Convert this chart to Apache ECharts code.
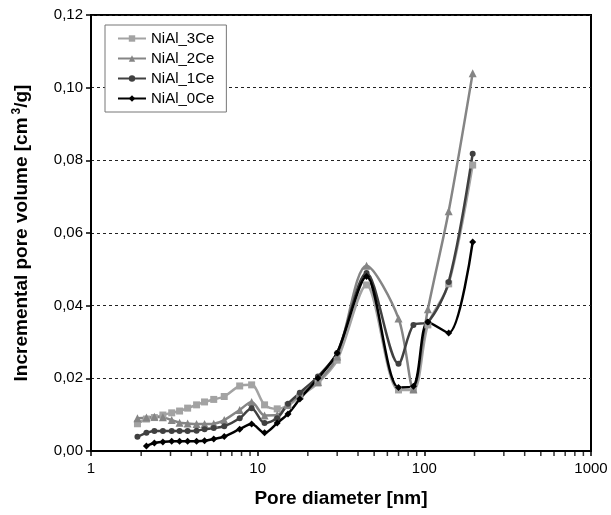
<!DOCTYPE html>
<html>
<head>
<meta charset="utf-8">
<script src="https://cdn.jsdelivr.net/npm/echarts@6/dist/echarts.min.js"></script>
<style>
  html, body { margin: 0; padding: 0; background: #fff; }
  #chart { width: 611px; height: 515px; }
</style>
</head>
<body>
<div id="chart"></div>
<script>
// pore diameters [nm] (shared grid)
const diameters = [1.9, 2.15, 2.4, 2.7, 3.05, 3.4, 3.8, 4.3, 4.8, 5.45, 6.3, 7.8, 9.2,
  11, 13.1, 15.2, 17.9, 23, 30, 45, 70, 86, 105, 140, 195];

const niAl3Ce = [0.0075, 0.0088, 0.0092, 0.0099, 0.0105, 0.011, 0.0118, 0.0127, 0.0135, 0.0142, 0.015, 0.0179, 0.0182,
  0.0127, 0.0116, 0.0125, 0.015, 0.0187, 0.025, 0.0457, 0.0168, 0.0168, 0.0347, 0.046, 0.0787];
const niAl2Ce = [0.009, 0.0092, 0.0094, 0.0093, 0.0085, 0.0078, 0.0076, 0.0074, 0.0074, 0.0075, 0.0085, 0.0113, 0.0135,
  0.0098, 0.0099, 0.0127, 0.0155, 0.019, 0.026, 0.051, 0.0365, 0.017, 0.039, 0.066, 0.104];
const niAl1Ce = [0.0039, 0.005, 0.0055, 0.0055, 0.0055, 0.0055, 0.0055, 0.0056, 0.006, 0.0063, 0.0068, 0.009, 0.0118,
  0.0077, 0.009, 0.013, 0.016, 0.0205, 0.027, 0.049, 0.024, 0.0347, 0.0355, 0.0465, 0.0818];
const niAl0Ce = [null, 0.0014, 0.0022, 0.0025, 0.0027, 0.0027, 0.0027, 0.0027, 0.0028, 0.0033, 0.004, 0.006, 0.0074,
  0.005, 0.0077, 0.0102, 0.0143, 0.02, 0.027, 0.048, 0.0175, 0.0178, 0.0355, 0.0325, 0.0575];

// minor tick positions on the log axis
const minorTicks = [2, 3, 4, 5, 6, 7, 8, 9, 20, 30, 40, 50, 60, 70, 80, 90,
  200, 300, 400, 500, 600, 700, 800, 900];

function pairs(ys) {
  return diameters.map((d, i) => [d, ys[i]]).filter(p => p[1] != null);
}

const chart = echarts.init(document.getElementById('chart'));

function line(name, data, color, symbol, size) {
  return {
    name: name,
    type: 'line',
    data: pairs(data),
    smooth: 0.3,
    symbol: symbol,
    symbolSize: size,
    showSymbol: true,
    lineStyle: { color: color, width: 2.5 },
    itemStyle: { color: color },
    z: 3
  };
}

const option = {
  animation: false,
  textStyle: { fontFamily: 'Liberation Sans, Arial, sans-serif' },
  grid: {
    left: 91, right: 20, top: 15, bottom: 64,
    show: true, borderColor: '#000', borderWidth: 2
  },
  legend: {
    orient: 'vertical',
    left: 105, top: 25,
    itemWidth: 28, itemHeight: 8, itemGap: 5,
    padding: [6, 12, 6, 12],
    borderColor: '#777', borderWidth: 1,
    backgroundColor: '#fff',
    textStyle: { fontSize: 15, color: '#000', fontFamily: 'Liberation Sans, Arial, sans-serif' },
    data: ['NiAl_3Ce', 'NiAl_2Ce', 'NiAl_1Ce', 'NiAl_0Ce']
  },
  xAxis: {
    type: 'log', logBase: 10, min: 1, max: 1000,
    name: 'Pore diameter [nm]',
    nameLocation: 'middle', nameGap: 38,
    nameTextStyle: { fontSize: 19, fontWeight: 'bold', color: '#000' },
    axisLine: { lineStyle: { color: '#000', width: 2 } },
    axisTick: { inside: false, length: 5, lineStyle: { color: '#000', width: 1.5 } },
    axisLabel: { fontSize: 15, color: '#000', margin: 10, formatter: v => String(v) },
    splitLine: { show: false }
  },
  yAxis: {
    type: 'value', min: 0, max: 0.12, interval: 0.02,
    name: 'Incremental pore volume [cm{sup|3}/g]',
    nameLocation: 'middle', nameGap: 58,
    nameTextStyle: {
      fontSize: 19, fontWeight: 'bold', color: '#000', lineHeight: 22,
      rich: {
        sup: { fontSize: 12, fontWeight: 'bold', color: '#000', verticalAlign: 'top', lineHeight: 22, padding: [0, 0, 0, 3] }
      }
    },
    axisLine: { show: true, lineStyle: { color: '#000', width: 2 } },
    axisTick: { show: true, length: 5, lineStyle: { color: '#000', width: 1.5 } },
    axisLabel: {
      fontSize: 15, color: '#000', margin: 8,
      formatter: v => v.toFixed(2).replace('.', ',')
    },
    splitLine: { show: true, lineStyle: { color: '#222', type: [3, 3], width: 1 } }
  },
  series: [
    line('NiAl_3Ce', niAl3Ce, '#a3a3a3', 'rect', 7),
    line('NiAl_2Ce', niAl2Ce, '#858585', 'triangle', 8),
    line('NiAl_1Ce', niAl1Ce, '#404040', 'circle', 6),
    line('NiAl_0Ce', niAl0Ce, '#000000', 'diamond', 7),
    {
      name: 'minor',
      type: 'scatter',
      data: minorTicks.map(v => [v, 0]),
      symbol: 'rect',
      symbolSize: [1.5, 4],
      symbolOffset: [0, 3],
      itemStyle: { color: '#000' },
      clip: false,
      silent: true,
      z: 1
    }
  ]
};

chart.setOption(option);
</script>
</body>
</html>
